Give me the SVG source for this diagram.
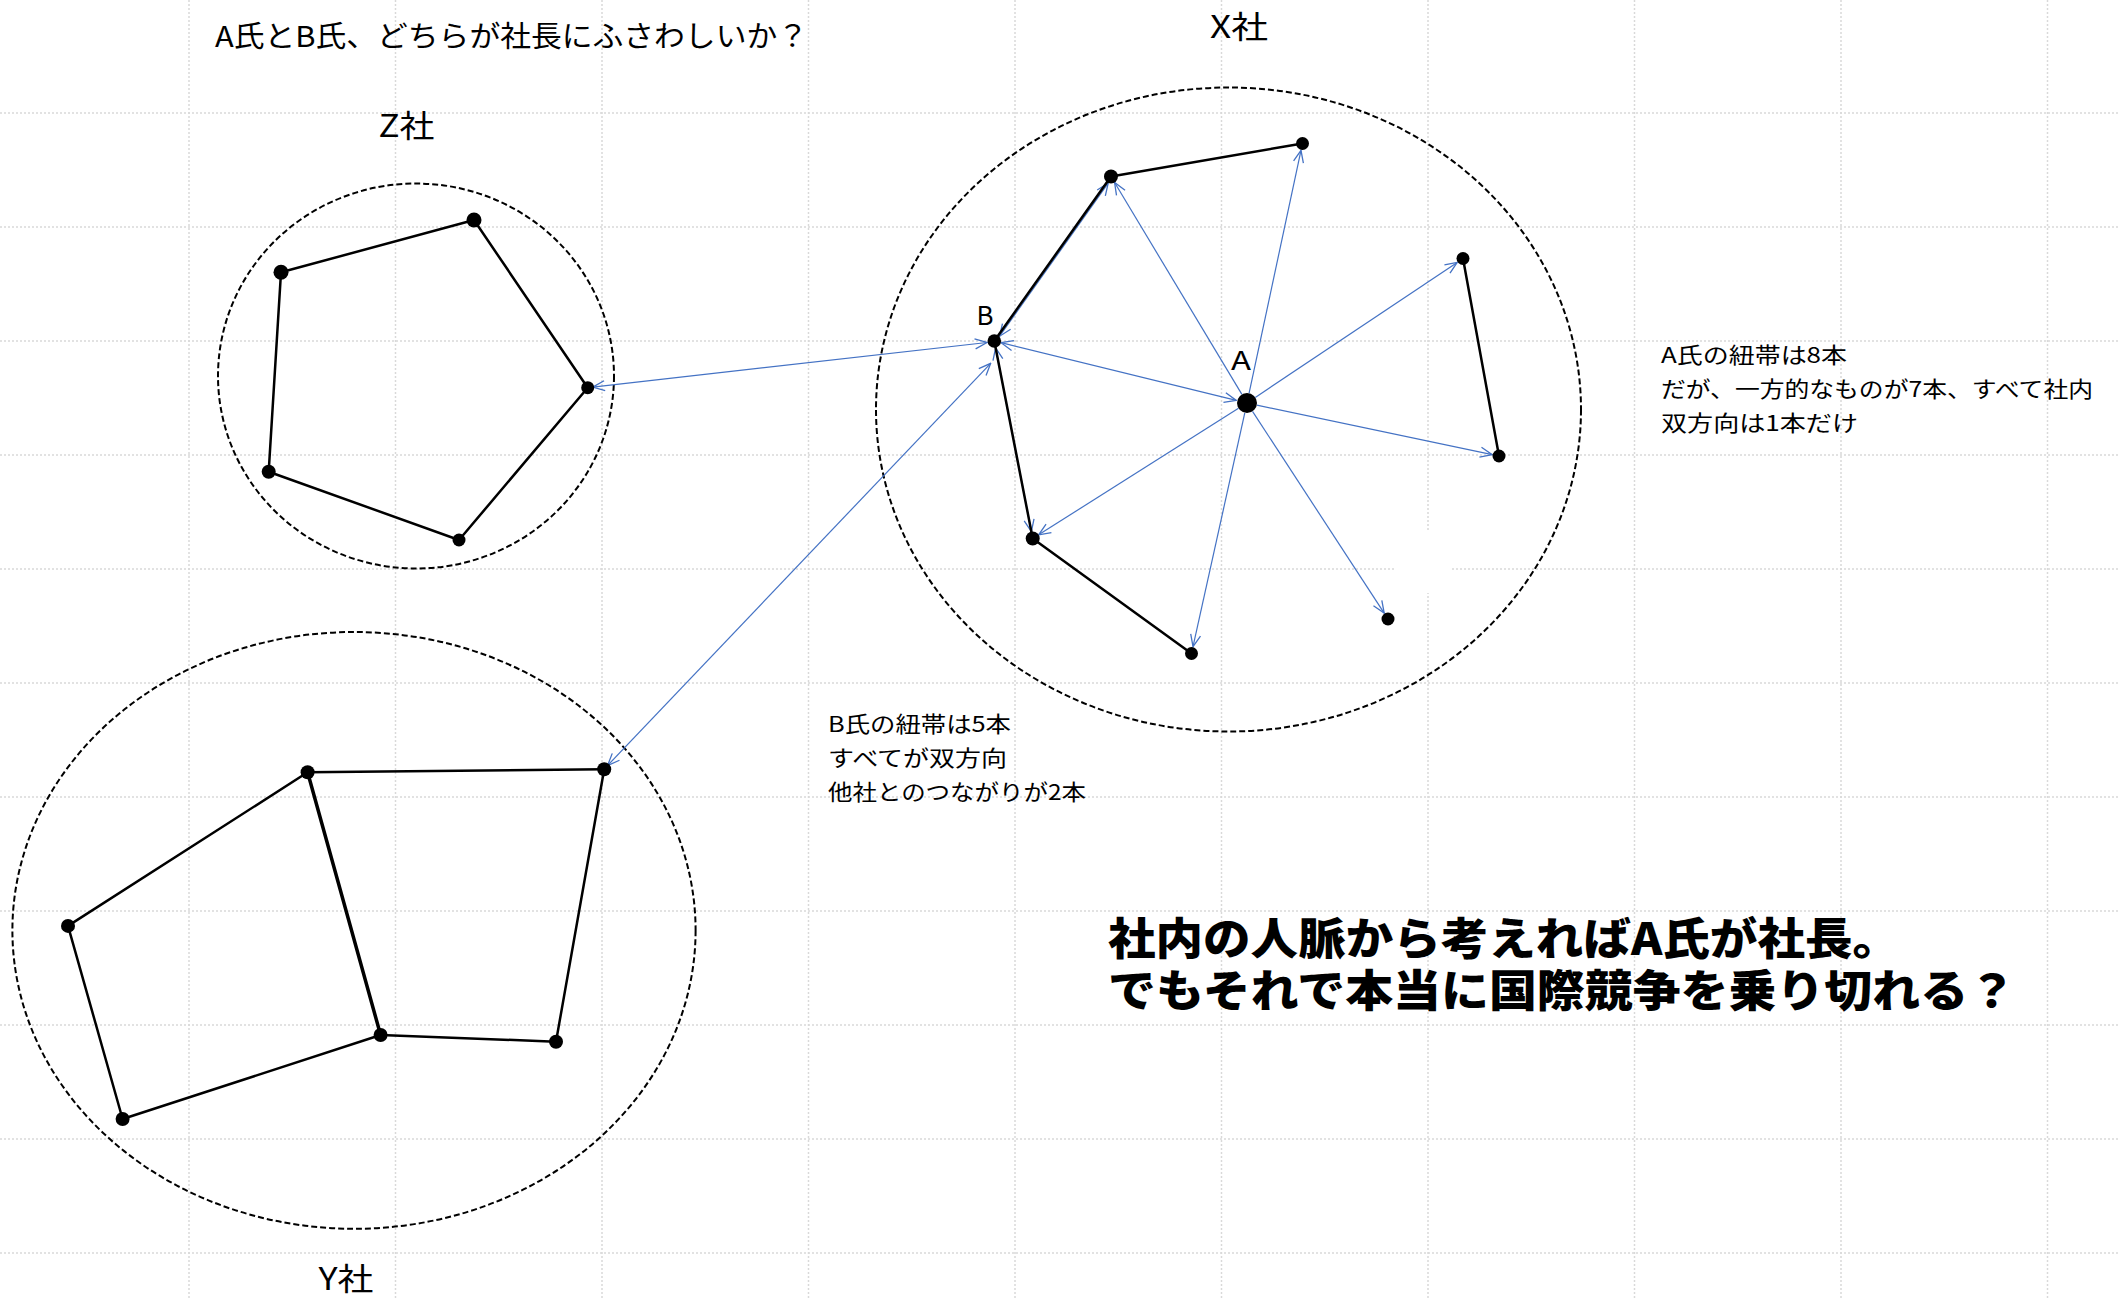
<svg xmlns="http://www.w3.org/2000/svg" width="2119" height="1298" viewBox="0 0 2119 1298">
<defs>
<style>
.grid line{stroke:#d9d9d9;stroke-width:1.5;stroke-dasharray:2 2}
.co{fill:none;stroke:#000;stroke-width:2;stroke-dasharray:6 3}
.dot{fill:#000}
.tie{stroke:#000;stroke-width:2.5;fill:none;stroke-linecap:round}
.thick{stroke-width:3.5}
.arr{stroke:#4472C4;stroke-width:1.2;fill:none;marker-end:url(#ah)}
.bi{marker-start:url(#ah)}
text{font-family:'Noto Sans CJK JP','Noto Sans',sans-serif;fill:#000}
.ttl{font-size:29px}
.lbl{font-size:31px}
.pt{font-size:26px}
.note{font-size:22px}
.big{font-size:44px;font-weight:900}
</style>
<marker id="ah" viewBox="-1 -1 14 12" refX="12" refY="5" markerWidth="14" markerHeight="12" markerUnits="userSpaceOnUse" orient="auto-start-reverse">
<path d="M0,0 L12,5 L0,10" fill="none" stroke="#4472C4" stroke-width="1.3"/>
</marker>
</defs>
<rect width="2119" height="1298" fill="#fff"/>
<g id="grid" class="grid">
<line x1="189" y1="0" x2="189" y2="1298"/>
<line x1="395.5" y1="0" x2="395.5" y2="1298"/>
<line x1="602" y1="0" x2="602" y2="1298"/>
<line x1="808.5" y1="0" x2="808.5" y2="1298"/>
<line x1="1015" y1="0" x2="1015" y2="1298"/>
<line x1="1221.5" y1="0" x2="1221.5" y2="1298"/>
<line x1="1428" y1="0" x2="1428" y2="1298"/>
<line x1="1634.5" y1="0" x2="1634.5" y2="1298"/>
<line x1="1841" y1="0" x2="1841" y2="1298"/>
<line x1="2047.5" y1="0" x2="2047.5" y2="1298"/>
<line x1="0" y1="113" x2="2119" y2="113"/>
<line x1="0" y1="227" x2="2119" y2="227"/>
<line x1="0" y1="341" x2="2119" y2="341"/>
<line x1="0" y1="455" x2="2119" y2="455"/>
<line x1="0" y1="569" x2="2119" y2="569"/>
<line x1="0" y1="683" x2="2119" y2="683"/>
<line x1="0" y1="797" x2="2119" y2="797"/>
<line x1="0" y1="911" x2="2119" y2="911"/>
<line x1="0" y1="1025" x2="2119" y2="1025"/>
<line x1="0" y1="1139" x2="2119" y2="1139"/>
<line x1="0" y1="1253" x2="2119" y2="1253"/>
</g>
<rect x="1396" y="531" width="56" height="62" fill="#fff"/>

<text class="ttl" x="215" y="46.5" textLength="593" lengthAdjust="spacingAndGlyphs">A氏とB氏、どちらが社長にふさわしいか？</text>

<g id="company-Z">
<ellipse class="co" cx="416" cy="376" rx="198" ry="192.5"/>
<text class="lbl" x="378.5" y="137" textLength="56" lengthAdjust="spacingAndGlyphs">Z社</text>
</g>
<g id="company-X">
<ellipse class="co" cx="1228.5" cy="409.5" rx="352.5" ry="322"/>
<text class="lbl" x="1210" y="38" textLength="58" lengthAdjust="spacingAndGlyphs">X社</text>
</g>
<g id="company-Y">
<ellipse class="co" cx="354" cy="930.4" rx="341.6" ry="298.4"/>
<text class="lbl" x="318.5" y="1290" textLength="55" lengthAdjust="spacingAndGlyphs">Y社</text>
</g>

<g id="connectors">
<path class="arr bi" d="M995.6,347.9 L1031.4,531.6"/>
<path class="arr bi" d="M999.6,336.2 L1108.2,183.1"/>
<line class="tie" x1="281" y1="272.3" x2="474" y2="220"/>
<line class="tie" x1="474" y1="220" x2="587.7" y2="387.7"/>
<line class="tie" x1="587.7" y1="387.7" x2="459" y2="540"/>
<line class="tie" x1="459" y1="540" x2="268.7" y2="471.7"/>
<line class="tie" x1="268.7" y1="471.7" x2="281" y2="272.3"/>
<line class="tie" x1="994.3" y1="341" x2="1111" y2="176.5"/>
<line class="tie" x1="1111" y1="176.5" x2="1302.5" y2="143.5"/>
<line class="tie" x1="994.3" y1="341" x2="1032.7" y2="538.5"/>
<line class="tie" x1="1032.7" y1="538.5" x2="1191.5" y2="653.5"/>
<line class="tie" x1="1463" y1="258.5" x2="1499" y2="456"/>
<line class="tie" x1="307.6" y1="772.3" x2="604.2" y2="769.2"/>
<line class="tie" x1="604.2" y1="769.2" x2="556" y2="1041.7"/>
<line class="tie" x1="556" y1="1041.7" x2="380.6" y2="1035"/>
<line class="tie thick" x1="380.6" y1="1035" x2="307.6" y2="772.3"/>
<line class="tie" x1="307.6" y1="772.3" x2="68" y2="925.9"/>
<line class="tie" x1="68" y1="925.9" x2="122.6" y2="1119"/>
<line class="tie" x1="122.6" y1="1119" x2="380.6" y2="1035"/>
<path class="arr" d="M1241.9,394.4 L1114.6,182.5"/>
<path class="arr" d="M1249.1,393.2 L1301,150.3"/>
<path class="arr" d="M1255.3,397.4 L1457.2,262.4"/>
<path class="arr" d="M1256.8,405.1 L1492.2,454.6"/>
<path class="arr" d="M1252.5,411.4 L1384.2,613.1"/>
<path class="arr" d="M1244.8,412.8 L1193,646.7"/>
<path class="arr" d="M1238.5,408.3 L1038.6,534.8"/>
<path class="arr bi" d="M1236.3,400.4 L1001.1,342.7"/>
<path class="arr bi" d="M592.7,387.1 L987,342.5"/>
<path class="arr bi" d="M607.6,765.5 L990.7,363.3"/>
</g>

<g id="node-Z1"><circle class="dot" cx="474" cy="220" r="7.5"/></g>
<g id="node-Z2"><circle class="dot" cx="281" cy="272.3" r="7.5"/></g>
<g id="node-Z3"><circle class="dot" cx="587.7" cy="387.7" r="6.5"/></g>
<g id="node-Z4"><circle class="dot" cx="268.7" cy="471.7" r="7"/></g>
<g id="node-Z5"><circle class="dot" cx="459" cy="540" r="6.5"/></g>

<g id="node-XA"><circle class="dot" cx="1247" cy="403" r="10"/><text class="pt" x="1231" y="370" textLength="20" lengthAdjust="spacingAndGlyphs">A</text></g>
<g id="node-XB"><circle class="dot" cx="994.3" cy="341" r="6.8"/><text class="pt" x="976.5" y="325" textLength="17" lengthAdjust="spacingAndGlyphs">B</text></g>
<g id="node-X1"><circle class="dot" cx="1111" cy="176.5" r="7"/></g>
<g id="node-X2"><circle class="dot" cx="1302.5" cy="143.5" r="6.5"/></g>
<g id="node-X3"><circle class="dot" cx="1463" cy="258.5" r="6.5"/></g>
<g id="node-X4"><circle class="dot" cx="1499" cy="456" r="6.5"/></g>
<g id="node-X5"><circle class="dot" cx="1388" cy="619" r="6.5"/></g>
<g id="node-X6"><circle class="dot" cx="1191.5" cy="653.5" r="6.5"/></g>
<g id="node-X7"><circle class="dot" cx="1032.7" cy="538.5" r="7"/></g>

<g id="node-Y1"><circle class="dot" cx="307.6" cy="772.3" r="7"/></g>
<g id="node-Y2"><circle class="dot" cx="604.2" cy="769.2" r="7"/></g>
<g id="node-Y3"><circle class="dot" cx="68" cy="925.9" r="7"/></g>
<g id="node-Y4"><circle class="dot" cx="122.6" cy="1119" r="7"/></g>
<g id="node-Y5"><circle class="dot" cx="380.6" cy="1035" r="7"/></g>
<g id="node-Y6"><circle class="dot" cx="556" cy="1041.7" r="7"/></g>

<g id="note-A">
<text class="note" x="1661" y="363" textLength="186" lengthAdjust="spacingAndGlyphs">A氏の紐帯は8本</text>
<text class="note" x="1661" y="397" textLength="432" lengthAdjust="spacingAndGlyphs">だが、一方的なものが7本、すべて社内</text>
<text class="note" x="1661" y="431" textLength="197" lengthAdjust="spacingAndGlyphs">双方向は1本だけ</text>
</g>
<g id="note-B">
<text class="note" x="828" y="732" textLength="183" lengthAdjust="spacingAndGlyphs">B氏の紐帯は5本</text>
<text class="note" x="828" y="766" textLength="179" lengthAdjust="spacingAndGlyphs">すべてが双方向</text>
<text class="note" x="828" y="800" textLength="258" lengthAdjust="spacingAndGlyphs">他社とのつながりが2本</text>
</g>
<g id="conclusion">
<text class="big"><tspan x="1108" y="955" textLength="792" lengthAdjust="spacingAndGlyphs">社内の人脈から考えればA氏が社長。</tspan><tspan x="1108" y="1007" textLength="908" lengthAdjust="spacingAndGlyphs">でもそれで本当に国際競争を乗り切れる？</tspan></text>
</g>
</svg>
